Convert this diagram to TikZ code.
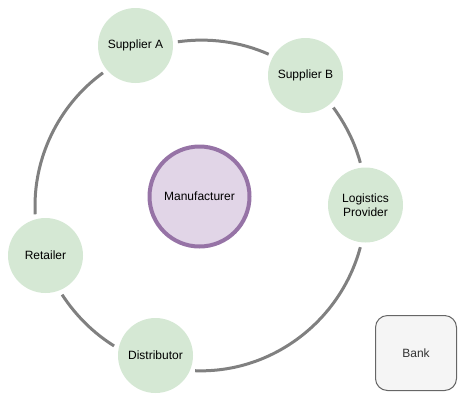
\documentclass[tikz,border=0pt]{standalone}
\usepackage{fontspec}
\setmainfont{Liberation Sans}
\definecolor{partyfill}{HTML}{D5E8D4}
\definecolor{mfill}{HTML}{E1D5E7}
\definecolor{mdraw}{HTML}{9673A6}
\definecolor{bankfill}{HTML}{F5F5F5}
\definecolor{bankdraw}{HTML}{666666}
\definecolor{banktext}{HTML}{333333}
\definecolor{ringgray}{HTML}{808080}
\begin{document}
\begin{tikzpicture}[x=1pt,y=1pt,
  label12/.style={font=\fontsize{12}{14}\selectfont, align=center},
  party/.style={circle, fill=partyfill, minimum size=75pt, inner sep=0pt, outer sep=5pt, label12},
  hub/.style={circle, fill=mfill, draw=mdraw, line width=4pt, minimum size=100pt, inner sep=0pt, label12},
  bankbox/.style={rectangle, rounded corners=12pt, fill=bankfill, draw=bankdraw, line width=1pt, minimum width=81pt, minimum height=75pt, inner sep=0pt, text=banktext, label12},
  ringlink/.style={draw=ringgray, line width=3pt}]
\useasboundingbox (0,0) rectangle (465,-405);
\node[party] (A) at (135.5,-45.5) {Supplier A};
\node[party] (B) at (305.5,-75.5) {Supplier B};
\node[party] (L) at (365.5,-205) {Logistics\\Provider};
\node[party] (D) at (155.5,-355.5) {Distributor};
\node[party] (R) at (45.5,-255.5) {Retailer};
\node[hub] (M) at (199.5,-196.5) {Manufacturer};
\node[bankbox] (K) at (416,-353) {Bank};
\draw[ringlink] (A.5) to[out=8,in=156,looseness=0.87] (B.150);
\draw[ringlink] (B.311) to[out=-54,in=105,looseness=0.86] (L.97);
\draw[ringlink] (L.263) to[out=-105,in=-2,looseness=0.95] (D.339);
\draw[ringlink] (D.167) to[out=148,in=303,looseness=0.86] (R.293);
\draw[ringlink] (R.104) to[out=93,in=216,looseness=0.9] (A.220);
\end{tikzpicture}
\end{document}
